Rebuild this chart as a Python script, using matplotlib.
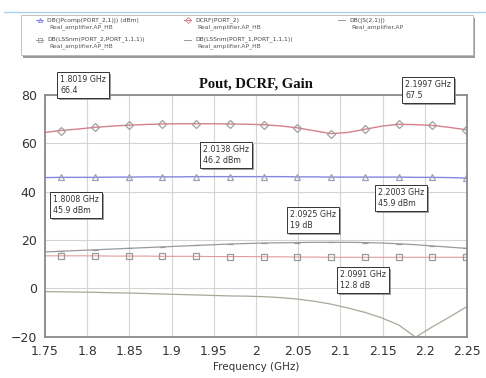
import matplotlib
matplotlib.use("Agg")
import matplotlib.pyplot as plt
import matplotlib.patheffects as pe
from matplotlib.patches import Rectangle
from matplotlib.lines import Line2D

# Frequency grid (GHz)
freq = [1.75, 1.769, 1.789, 1.809, 1.829, 1.849, 1.869, 1.889, 1.909, 1.929,
        1.949, 1.969, 1.989, 2.009, 2.029, 2.049, 2.069, 2.089, 2.109, 2.129,
        2.149, 2.169, 2.189, 2.209, 2.229, 2.249]

# DCRF(PORT_2)
dcrf = [64.5, 65.3, 65.9, 66.6, 67.1, 67.5, 67.8, 68.0, 68.1, 68.1,
        68.1, 68.0, 67.9, 67.7, 67.2, 66.4, 65.2, 64.0, 64.5, 65.8,
        67.1, 67.9, 67.7, 67.4, 66.6, 65.6]

# Output power (dBm)
pout = [45.8, 45.9, 45.9, 45.9, 46.0, 46.0, 46.1, 46.1, 46.1, 46.2,
        46.2, 46.2, 46.2, 46.2, 46.2, 46.1, 46.1, 46.0, 46.0, 46.0,
        46.0, 46.0, 45.9, 45.9, 45.8, 45.6]

# Small-signal gain |S21| (dB)
s21 = [15.0, 15.3, 15.6, 15.9, 16.2, 16.5, 16.8, 17.1, 17.4, 17.7,
       18.0, 18.3, 18.5, 18.7, 18.8, 18.9, 19.0, 19.0, 19.0, 18.9,
       18.7, 18.4, 18.0, 17.5, 17.0, 16.5]

# Large-signal gain LSS21 (dB)
lss21 = [13.4, 13.4, 13.4, 13.4, 13.3, 13.3, 13.3, 13.2, 13.2, 13.2,
         13.1, 13.1, 13.1, 13.0, 13.0, 12.9, 12.9, 12.8, 12.8, 12.8,
         12.8, 12.8, 12.8, 12.8, 12.8, 12.8]

# Large-signal input match LSS11 (dB)
lss11 = [-1.4, -1.5, -1.6, -1.7, -1.9, -2.0, -2.2, -2.4, -2.6, -2.8,
         -3.0, -3.2, -3.3, -3.5, -3.9, -4.5, -5.4, -6.6, -8.2, -10.0,
         -12.3, -15.2, -20.3, -16.0, -12.0, -7.8]

xticks = [1.75, 1.8, 1.85, 1.9, 1.95, 2.0, 2.05, 2.1, 2.15, 2.2, 2.25]
xtick_labels = ["1.75", "1.8", "1.85", "1.9", "1.95", "2", "2.05", "2.1", "2.15", "2.2", "2.25"]
yticks = [-20, 0, 20, 40, 60, 80]

legend_entries = [
    ("DB(|Pcomp(PORT_2,1)|) (dBm)", "Real_amplifier.AP_HB"),
    ("DCRF(PORT_2)", "Real_amplifier.AP_HB"),
    ("DB(|S(2,1)|)", "Real_amplifier.AP"),
    ("DB(LSSnm(PORT_2,PORT_1,1,1))", "Real_amplifier.AP_HB"),
    ("DB(LSSnm(PORT_1,PORT_1,1,1))", "Real_amplifier.AP_HB"),
]

markers_text = [
    ("1.8019 GHz\n66.4", 57, 72),
    ("2.1997 GHz\n67.5", 402, 77),
    ("2.0138 GHz\n46.2 dBm", 200, 142),
    ("1.8008 GHz\n45.9 dBm", 50, 192),
    ("2.2003 GHz\n45.9 dBm", 375, 185),
    ("2.0925 GHz\n19 dB", 287, 207),
    ("2.0991 GHz\n12.8 dB", 337, 267),
]

W, H = 486, 378
fig = plt.figure(figsize=(W / 100, H / 100), dpi=100)
fig.patch.set_facecolor("white")

def fx(px):
    return px / W

def fy(py):
    return 1 - py / H

ax = fig.add_axes([fx(45), fy(336.5), fx(467) - fx(45), fy(95) - fy(336.5)])
ax.set_xlim(1.75, 2.25)
ax.set_ylim(-20, 80)
ax.set_xticks(xticks)
ax.set_xticklabels(xtick_labels)
ax.set_yticks(yticks)
ax.grid(True, color="#d4d4d4", linewidth=0.8)
ax.set_axisbelow(True)
ax.tick_params(length=0, labelsize=9, colors="#333333", pad=6)
for s in ax.spines.values():
    s.set_color("#8a8a8a")
    s.set_linewidth(1.3)

mk = list(range(1, len(freq), 2))

ax.plot(freq, dcrf, color="#d5808c", lw=1.0, marker="D", ms=4.5, mfc="none",
        mec="#a0a0a0", mew=0.9, markevery=mk)
ax.plot(freq, pout, color="#8585dd", lw=1.0, marker="^", ms=5, mfc="none",
        mec="#a0a0b8", mew=0.9, markevery=mk)
ax.plot(freq, s21, color="#9a9a9a", lw=0.9, marker="_", ms=5, mec="#999999",
        mew=0.9, markevery=mk)
ax.plot(freq, lss21, color="#e49a9a", lw=0.8, marker="s", ms=5, mfc="none",
        mec="#9a9a9a", mew=0.9, markevery=mk)
ax.plot(freq, lss11, color="#a8a89a", lw=0.9, clip_on=True)

ax.set_xlabel("Frequency (GHz)", fontsize=7.5, color="#333333", labelpad=3)
fig.text(fx(256), fy(84), "Pout, DCRF, Gain", ha="center", va="center",
         fontsize=10.5, fontweight="bold", family="Liberation Serif", color="#111111")

# Marker readouts
for txt, left, top in markers_text:
    t = fig.text(fx(left + 3), fy(top + 3), txt, ha="left", va="top", fontsize=5.7,
                 color="#333333", linespacing=1.25,
                 bbox=dict(boxstyle="square,pad=0.4", fc="white", ec="#333333", lw=0.7))
    t.get_bbox_patch().set_path_effects(
        [pe.withSimplePatchShadow(offset=(1.3, -1.3), shadow_rgbFace="#888888", alpha=0.8)])

# Top rule
fig.add_artist(Line2D([fx(4), fx(486)], [fy(12.3), fy(12.3)], color="#a9d2f0", lw=1.0))

# Legend frame with shadow
fig.add_artist(Rectangle((fx(23), fy(57.5)), fx(473) - fx(21), fy(15) - fy(55),
                         transform=fig.transFigure, fc="#9a9a9a", ec="none"))
fig.add_artist(Rectangle((fx(21), fy(55)), fx(473) - fx(21), fy(15) - fy(55),
                         transform=fig.transFigure, fc="white", ec="#b8b8b8", lw=0.6))

leg_pos = [(40, 20), (188, 20), (342, 20), (40, 39.5), (188, 39.5)]
leg_style = [
    dict(color="#8585dd", marker="^", mfc="none", mec="#8585dd"),
    dict(color="#d5808c", marker="D", mfc="none", mec="#d5808c"),
    dict(color="#9a9a9a", marker=None),
    dict(color="#9a9a9a", marker="s", mfc="none", mec="#9a9a9a"),
    dict(color="#9a9a9a", marker=None),
]
for (l1, l2), (mx, my), st in zip(legend_entries, leg_pos, leg_style):
    fig.add_artist(Line2D([fx(mx - 4), fx(mx), fx(mx + 3)], [fy(my)] * 3, lw=0.7, ms=3,
                          mew=0.6, markevery=[1], **st))
    fig.text(fx(mx + 7), fy(my), l1, ha="left", va="center", fontsize=4.3, color="#444444")
    fig.text(fx(mx + 9), fy(my + 7), l2, ha="left", va="center", fontsize=4.3, color="#555555")

fig.savefig("out.png", dpi=100, facecolor="white")
